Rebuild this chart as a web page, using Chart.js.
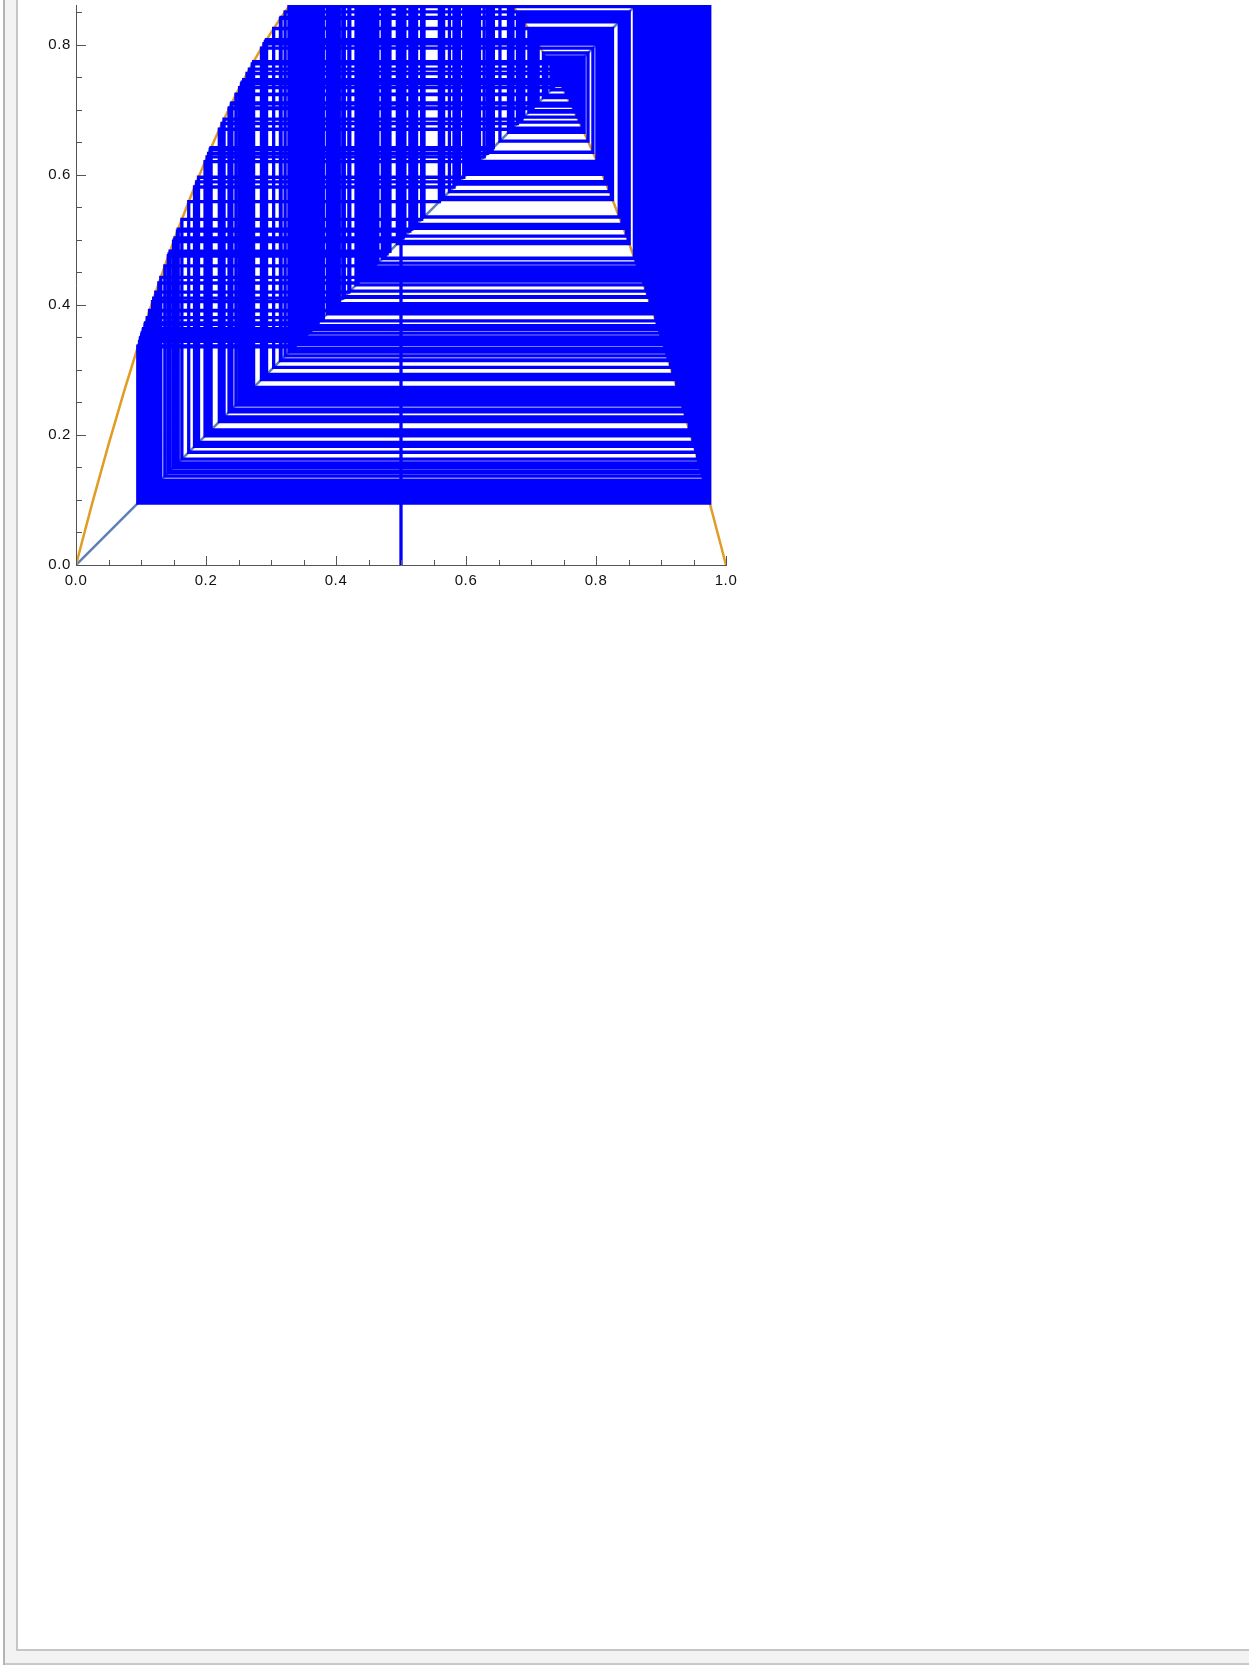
<!DOCTYPE html>
<html>
<head>
<meta charset="utf-8">
<title>Cobweb diagram, r = 3.9</title>
<script src="https://cdn.jsdelivr.net/npm/chart.js@4/dist/chart.umd.min.js"></script>
<style>
  html, body { margin: 0; padding: 0; background: #fff; }
  body { position: relative; width: 1249px; height: 1665px; overflow: hidden; }
  .edge-outer   { position: absolute; left: 3px;  top: 0; width: 2px;  height: 1665px; background: #b4b4b4; }
  .gutter-left  { position: absolute; left: 5px;  top: 0; width: 12px; height: 1651px; background: #f3f3f3; }
  .gutter-bottom{ position: absolute; left: 5px;  top: 1651px; right: 0; height: 12px; background: #f3f3f3; }
  .edge-bottom  { position: absolute; left: 5px;  top: 1663px; right: 0; height: 2px; background: #c8c8c8; }
  .edge-inner-v { position: absolute; left: 16px; top: 0; width: 2px; height: 1651px; background: #c6c6c6; }
  .edge-inner-h { position: absolute; left: 16px; top: 1649px; right: 0; height: 2px; background: #c6c6c6; }
  #plot { position: absolute; left: 0; top: -15px; }
</style>
</head>
<body>
<div class="edge-outer"></div>
<div class="gutter-left"></div>
<div class="gutter-bottom"></div>
<div class="edge-bottom"></div>
<div class="edge-inner-v"></div>
<div class="edge-inner-h"></div>
<canvas id="plot" width="760" height="620"></canvas>

<script>
// Orbit of the logistic map x -> 3.9 x (1 - x), starting from x0 = 0.5
const orbitA = [
  0.5, 0.975, 0.095063, 0.335499, 0.869466, 0.442631, 0.962166, 0.141970, 0.475076, 0.972574,
  0.104028, 0.363505, 0.902339, 0.343681, 0.879700, 0.412729, 0.945298, 0.201668, 0.627893, 0.911209,
  0.315537, 0.842295, 0.518053, 0.973732, 0.099753, 0.350228, 0.887515, 0.389345, 0.927245, 0.263102,
  0.756128, 0.719152, 0.787691, 0.652213, 0.884641, 0.398000, 0.934424, 0.238976, 0.709281, 0.804188,
  0.614133, 0.924199, 0.273216, 0.774415, 0.681314, 0.846788, 0.505978, 0.974860, 0.095581, 0.337136,
  0.871553, 0.436597, 0.959322, 0.152190, 0.503209, 0.974960, 0.095212, 0.335972, 0.870071, 0.440883,
  0.961374, 0.144823, 0.483011, 0.973877, 0.099220, 0.348563, 0.885561, 0.395238, 0.932198, 0.246500,
  0.724378, 0.778651, 0.672181, 0.859381, 0.471296, 0.971786, 0.106930, 0.372434, 0.911535, 0.314492,
  0.840793, 0.522054, 0.973105, 0.102071, 0.357447, 0.895744, 0.364209, 0.903088, 0.341328, 0.876810,
  0.421255, 0.950820, 0.182368, 0.581529, 0.949077, 0.188487, 0.596544, 0.938648, 0.224593, 0.679189,
  0.849775, 0.497863, 0.974982, 0.095128, 0.335708, 0.869731, 0.441866, 0.961818, 0.143224, 0.478573,
  0.973210, 0.101681, 0.356234, 0.894391, 0.368378, 0.907436, 0.327584, 0.859061, 0.472193, 0.971985,
  0.106197, 0.370184, 0.909277, 0.321723, 0.851050, 0.494380, 0.974877, 0.095518, 0.336937, 0.871303,
  0.437323, 0.959681, 0.150903, 0.499711, 0.974997, 0.095073, 0.335533, 0.869509, 0.442506, 0.962118,
  0.142143, 0.475558, 0.972672, 0.103667, 0.362388, 0.901146, 0.347420, 0.884200, 0.399321, 0.935470,
  0.235427, 0.702008, 0.815853, 0.585924, 0.946206, 0.198511, 0.620506, 0.918364, 0.292391, 0.806903,
  0.607663, 0.929795, 0.254576, 0.740091, 0.750188, 0.730883, 0.767103, 0.696755, 0.824019, 0.565548,
  0.958242, 0.156058, 0.513645, 0.974275, 0.097746, 0.343949, 0.880027, 0.411758, 0.944635, 0.203971,
  0.633232, 0.905771, 0.332865, 0.866056, 0.452412, 0.966167, 0.127485, 0.433809, 0.957914, 0.157229
];
const orbitB = [
  0.516781, 0.973900, 0.099134, 0.348293, 0.885242, 0.396197, 0.929500, 0.255566, 0.742023, 0.746558,
  0.737915, 0.754244, 0.722904, 0.781225, 0.666557, 0.866810, 0.450255, 0.965348, 0.130459, 0.442416,
  0.962068, 0.142323, 0.476061, 0.972765, 0.103323, 0.361323, 0.899995, 0.351016, 0.888436, 0.386556,
  0.924811, 0.271190, 0.770819, 0.688962, 0.835743, 0.535380, 0.970113, 0.113075, 0.391127, 0.928773,
  0.258001, 0.746600, 0.737833, 0.754397, 0.722600, 0.781751, 0.665406, 0.868300, 0.445985, 0.963624,
  0.136706, 0.460270, 0.968846, 0.117717, 0.405054, 0.939842, 0.220502, 0.670336, 0.861845, 0.464365,
  0.970047, 0.113318, 0.391860, 0.929393, 0.255926, 0.742669, 0.745337, 0.740259, 0.749876, 0.731492,
  0.765995, 0.699063, 0.820459, 0.574493, 0.953359, 0.173417, 0.559038, 0.961405, 0.144710, 0.482699,
  0.973831, 0.099388, 0.349090, 0.886181, 0.393370, 0.930658, 0.251680, 0.734515, 0.760510, 0.710326,
  0.802475, 0.618186, 0.920525, 0.285320, 0.795261, 0.635002, 0.903919, 0.338715, 0.873545, 0.430810,
  0.956331, 0.162872, 0.531746, 0.971069, 0.109566, 0.380488, 0.919296, 0.289345, 0.801938, 0.619453,
  0.919351, 0.289166, 0.801641, 0.620151, 0.918700, 0.291291, 0.805128, 0.611898, 0.926168, 0.266686,
  0.762700, 0.705857, 0.809730, 0.600861, 0.935325, 0.235919, 0.703018, 0.814258, 0.589844, 0.943519,
  0.207835, 0.642096, 0.896255, 0.362630, 0.901407, 0.346601, 0.883229, 0.402227, 0.937716, 0.227780,
  0.685998, 0.840080, 0.523946, 0.972765, 0.101000, 0.354116, 0.892000, 0.375710, 0.914757, 0.304106,
  0.825341, 0.562201, 0.959911, 0.150080, 0.497468, 0.974975, 0.099000, 0.347876, 0.884746, 0.397687,
  0.934175, 0.239819, 0.710993, 0.801380, 0.620763, 0.918122, 0.293179, 0.808178, 0.604601, 0.932330,
  0.246055, 0.723497, 0.780191, 0.668823, 0.863846, 0.458702, 0.968347, 0.119539, 0.410471, 0.943742,
  0.207063, 0.640333, 0.898197, 0.356612, 0.894816, 0.367068, 0.906083, 0.331878, 0.864767, 0.456086,
  0.967481, 0.122702, 0.419819, 0.949927, 0.185507, 0.589267, 0.943925, 0.206431, 0.638886, 0.899773
];
const orbit = [...orbitA, ...orbitB];

// The map itself, sampled along x
const curveX = [
  0, 0.025, 0.05, 0.075, 0.1, 0.125, 0.15, 0.175, 0.2, 0.225, 0.25, 0.275, 0.3, 0.325, 0.35, 0.375, 0.4, 0.425, 0.45, 0.475,
  0.5, 0.525, 0.55, 0.575, 0.6, 0.625, 0.65, 0.675, 0.7, 0.725, 0.75, 0.775, 0.8, 0.825, 0.85, 0.875, 0.9, 0.925, 0.95, 0.975, 1
];
const curveY = [
  0, 0.0951, 0.1853, 0.2706, 0.351, 0.4266, 0.4973, 0.5631, 0.624, 0.6801, 0.7313, 0.7776, 0.819, 0.8556, 0.8873, 0.9141, 0.936, 0.9531, 0.9653, 0.9726,
  0.975, 0.9726, 0.9653, 0.9531, 0.936, 0.9141, 0.8873, 0.8556, 0.819, 0.7776, 0.7313, 0.6801, 0.624, 0.5631, 0.4973, 0.4266, 0.351, 0.2706, 0.1853, 0.0951, 0
];

// Identity line y = x
const diagonalX = [0, 1];
const diagonalY = [0, 1];

// Axis ranges and ticks
const xRange = [0, 1];
const yRange = [0, 0.8615];
const xMajorTicks = [0, 0.2, 0.4, 0.6, 0.8, 1.0];
const yMajorTicks = [0, 0.2, 0.4, 0.6, 0.8];
const xMinorTicks = [0.05, 0.1, 0.15, 0.25, 0.3, 0.35, 0.45, 0.5, 0.55, 0.65, 0.7, 0.75, 0.85, 0.9, 0.95];
const yMinorTicks = [0.05, 0.1, 0.15, 0.25, 0.3, 0.35, 0.45, 0.5, 0.55, 0.65, 0.7, 0.75, 0.85];

const FONT = '"Liberation Sans", Arial, Helvetica, sans-serif';
const AXIS_COLOR = '#555555';
const LABEL_COLOR = '#111111';

// Staircase path: up/down to the map, then across to the diagonal
const cobweb = [{ x: orbit[0], y: 0 }];
for (let i = 0; i < orbit.length - 1; i++) {
  cobweb.push({ x: orbit[i], y: orbit[i + 1] });
  cobweb.push({ x: orbit[i + 1], y: orbit[i + 1] });
}
const curvePts = curveX.map((x, i) => ({ x, y: curveY[i] }));
const diagPts = diagonalX.map((x, i) => ({ x, y: diagonalY[i] }));

// Slightly wider spacing for the tick numbers
const labelSpacing = {
  id: 'labelSpacing',
  beforeDraw(chart) { chart.ctx.letterSpacing = '0.6px'; },
  afterDraw(chart) { chart.ctx.letterSpacing = '0px'; }
};

// Ticks pointing into the plot, long for labelled values, short in between
const insideTicks = {
  id: 'insideTicks',
  afterDraw(chart) {
    const { ctx, chartArea, scales } = chart;
    const xs = scales.x, ys = scales.y;
    ctx.save();
    ctx.strokeStyle = AXIS_COLOR;
    ctx.lineWidth = 1;
    const bottom = Math.round(chartArea.bottom) + 0.5;
    const left = Math.round(chartArea.left) + 0.5;
    const drawX = (vals, len) => vals.forEach(v => {
      const px = Math.round(xs.getPixelForValue(v)) + 0.5;
      ctx.beginPath(); ctx.moveTo(px, bottom); ctx.lineTo(px, bottom - len); ctx.stroke();
    });
    const drawY = (vals, len) => vals.forEach(v => {
      const py = Math.round(ys.getPixelForValue(v)) + 0.5;
      ctx.beginPath(); ctx.moveTo(left, py); ctx.lineTo(left + len, py); ctx.stroke();
    });
    drawX(xMajorTicks, 9.5); drawX(xMinorTicks, 5.5);
    drawY(yMajorTicks, 9.5); drawY(yMinorTicks, 5.5);
    ctx.restore();
  }
};

new Chart(document.getElementById('plot'), {
  type: 'line',
  data: {
    datasets: [
      { label: 'cobweb', data: cobweb, borderColor: '#0000ff', borderWidth: 3.3,
        pointRadius: 0, tension: 0, clip: 0, order: 0, borderJoinStyle: 'miter' },
      { label: 'map', data: curvePts, borderColor: '#e19c24', borderWidth: 2.5,
        pointRadius: 0, cubicInterpolationMode: 'monotone', clip: 0, order: 1 },
      { label: 'identity', data: diagPts, borderColor: '#5e81b5', borderWidth: 2.5,
        pointRadius: 0, tension: 0, clip: 0, order: 2 }
    ]
  },
  options: {
    responsive: false,
    animation: false,
    events: [],
    layout: { padding: { top: 20, left: 0, right: 34, bottom: 0 } },
    plugins: { legend: { display: false }, tooltip: { enabled: false } },
    scales: {
      x: {
        type: 'linear', position: 'bottom', min: xRange[0], max: xRange[1],
        afterBuildTicks: s => { s.ticks = xMajorTicks.map(v => ({ value: v })); },
        afterFit: s => { s.height = 40; },
        grid: { display: false, drawTicks: false },
        border: { display: true, color: AXIS_COLOR, width: 1 },
        ticks: { callback: v => Number(v).toFixed(1), color: LABEL_COLOR, padding: 7,
                 maxRotation: 0, autoSkip: false, font: { family: FONT, size: 15 } }
      },
      y: {
        type: 'linear', position: 'left', min: yRange[0], max: yRange[1],
        afterBuildTicks: s => { s.ticks = yMajorTicks.map(v => ({ value: v })); },
        afterFit: s => { s.width = 76; },
        grid: { display: false, drawTicks: false },
        border: { display: true, color: AXIS_COLOR, width: 1 },
        ticks: { callback: v => Number(v).toFixed(1), color: LABEL_COLOR, padding: 5,
                 autoSkip: false, font: { family: FONT, size: 15 } }
      }
    }
  },
  plugins: [labelSpacing, insideTicks]
});
</script>
</body>
</html>
